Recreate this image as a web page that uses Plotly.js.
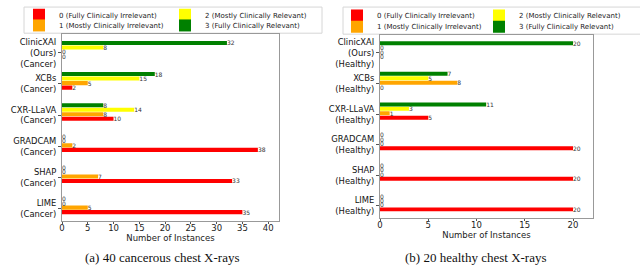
<!DOCTYPE html>
<html>
<head>
<meta charset="utf-8">
<script src="https://cdn.plot.ly/plotly-3.0.1.min.js"></script>
<style>html,body{margin:0;padding:0;background:#fff;}#chart{width:640px;height:278px;}</style>
</head>
<body>
<div id="chart"></div>
<script>
// ---- data ----
const cancerLabels = ['ClinicXAI<br>(Ours)<br>(Cancer)','XCBs<br>(Cancer)','CXR-LLaVA<br>(Cancer)','GRADCAM<br>(Cancer)','SHAP<br>(Cancer)','LIME<br>(Cancer)'];
const healthyLabels = ['ClinicXAI<br>(Ours)<br>(Healthy)','XCBs<br>(Healthy)','CXR-LLaVA<br>(Healthy)','GRADCAM<br>(Healthy)','SHAP<br>(Healthy)','LIME<br>(Healthy)'];
const scoreNames = ['0 (Fully Clinically Irrelevant)','1 (Mostly Clinically Irrelevant)','2 (Mostly Clinically Relevant)','3 (Fully Clinically Relevant)'];
const cancer0 = [0, 2, 10, 38, 33, 35];
const cancer1 = [0, 5, 8, 2, 7, 5];
const cancer2 = [8, 15, 14, 0, 0, 0];
const cancer3 = [32, 18, 8, 0, 0, 0];
const healthy0 = [0, 0, 5, 20, 20, 20];
const healthy1 = [0, 8, 1, 0, 0, 0];
const healthy2 = [0, 5, 3, 0, 0, 0];
const healthy3 = [20, 7, 11, 0, 0, 0];
const captions = ['(a) 40 cancerous chest X-rays', '(b) 20 healthy chest X-rays'];
const xTitle = 'Number of Instances';

// ---- styling ----
const colors = ['#ff0000', '#ffa500', '#ffff00', '#008000'];
const W = 640, H = 278;
const px = v => v / W, py = v => 1 - v / H;
const FONT = 'DejaVu Sans, sans-serif';

const n = cancerLabels.length;
const pos = cancerLabels.map((_, i) => n - 1 - i);     // top = first method
const tickPos = pos.map(p => p - 0.1);

const cancerSeries = [cancer0, cancer1, cancer2, cancer3];
const healthySeries = [healthy0, healthy1, healthy2, healthy3];

// legend placement (one legend per entry, two columns per chart)
const legendCfg = [
  {x: 19, y: 6}, {x: 19, y: 17}, {x: 165, y: 6}, {x: 165, y: 17},
  {x: 337, y: 6.7}, {x: 337, y: 18.3}, {x: 479, y: 6.7}, {x: 479, y: 18.3}
];

const traces = [];
function addSeries(series, xa, ya, legOffset) {
  series.forEach((vals, k) => {
    const legName = 'legend' + (legOffset + k === 0 ? '' : (legOffset + k + 1));
    traces.push({
      type: 'bar', orientation: 'h',
      x: vals, y: pos, xaxis: xa, yaxis: ya,
      name: scoreNames[k],
      marker: {color: colors[k], line: {width: 0}},
      text: vals.map(String), textposition: 'outside',
      textfont: {family: FONT, size: 6, color: '#333'},
      constraintext: 'none', cliponaxis: false,
      legend: legName, showlegend: true, hoverinfo: 'x'
    });
  });
}
addSeries(cancerSeries, 'x', 'y', 0);
addSeries(healthySeries, 'x2', 'y2', 4);

function xAxis(domain, anchor, range) {
  return {
    domain: domain, anchor: anchor, range: range,
    dtick: 5, showgrid: false, zeroline: false,
    showline: true, linecolor: '#999', linewidth: 1, mirror: true,
    ticks: 'outside', ticklen: 2, tickcolor: '#555',
    ticklabelstandoff: -3,
    tickfont: {family: FONT, size: 8.5, color: '#222'},
    title: {text: xTitle, font: {family: FONT, size: 8.5, color: '#222'}, standoff: 0}
  };
}
function yAxis(domain, anchor, labels) {
  return {
    domain: domain, anchor: anchor, range: [-0.5, n - 0.5],
    tickvals: tickPos, ticktext: labels,
    showgrid: false, zeroline: false,
    showline: true, linecolor: '#999', linewidth: 1, mirror: true,
    ticks: 'outside', ticklen: 3, tickcolor: '#555',
    tickfont: {family: FONT, size: 8.4, color: '#111'}
  };
}

const layout = {
  width: W, height: H,
  margin: {l: 0, r: 0, t: 0, b: 0},
  paper_bgcolor: '#fff', plot_bgcolor: '#fff',
  font: {family: FONT, color: '#222'},
  barmode: 'group', bargap: 0.42, bargroupgap: 0.1,
  xaxis: xAxis([px(62), px(279)], 'y', [0, 42.1]),
  yaxis: yAxis([py(219), py(26)], 'x', cancerLabels),
  xaxis2: xAxis([px(380), px(593)], 'y2', [0, 22.07]),
  yaxis2: yAxis([py(216), py(26.5)], 'x2', healthyLabels),
  shapes: [
    {type: 'rect', xref: 'paper', yref: 'paper', x0: px(24), x1: px(322), y0: py(25), y1: py(-2),
     line: {color: '#d6d6d6', width: 1}, fillcolor: 'rgba(255,255,255,0.8)', layer: 'below'},
    {type: 'rect', xref: 'paper', yref: 'paper', x0: px(343), x1: px(642), y0: py(26), y1: py(-2),
     line: {color: '#d6d6d6', width: 1}, fillcolor: 'rgba(255,255,255,0.8)', layer: 'below'}
  ],
  annotations: [
    {xref: 'paper', yref: 'paper', x: px(161.5), y: py(257), xanchor: 'center', yanchor: 'middle',
     text: captions[0], showarrow: false, font: {family: 'Liberation Serif, serif', size: 13, color: '#111'}},
    {xref: 'paper', yref: 'paper', x: px(475.7), y: py(257), xanchor: 'center', yanchor: 'middle',
     text: captions[1], showarrow: false, font: {family: 'Liberation Serif, serif', size: 13, color: '#111'}}
  ]
};

legendCfg.forEach((c, i) => {
  const key = 'legend' + (i === 0 ? '' : (i + 1));
  layout[key] = {
    x: px(c.x), y: py(c.y), xanchor: 'left', yanchor: 'middle',
    orientation: 'v', bgcolor: 'rgba(0,0,0,0)', borderwidth: 0,
    font: {family: FONT, size: 7, color: '#222'},
    itemwidth: 30, itemclick: false, itemdoubleclick: false
  };
});

Plotly.newPlot('chart', traces, layout, {displayModeBar: false, staticPlot: true});
</script>
</body>
</html>
